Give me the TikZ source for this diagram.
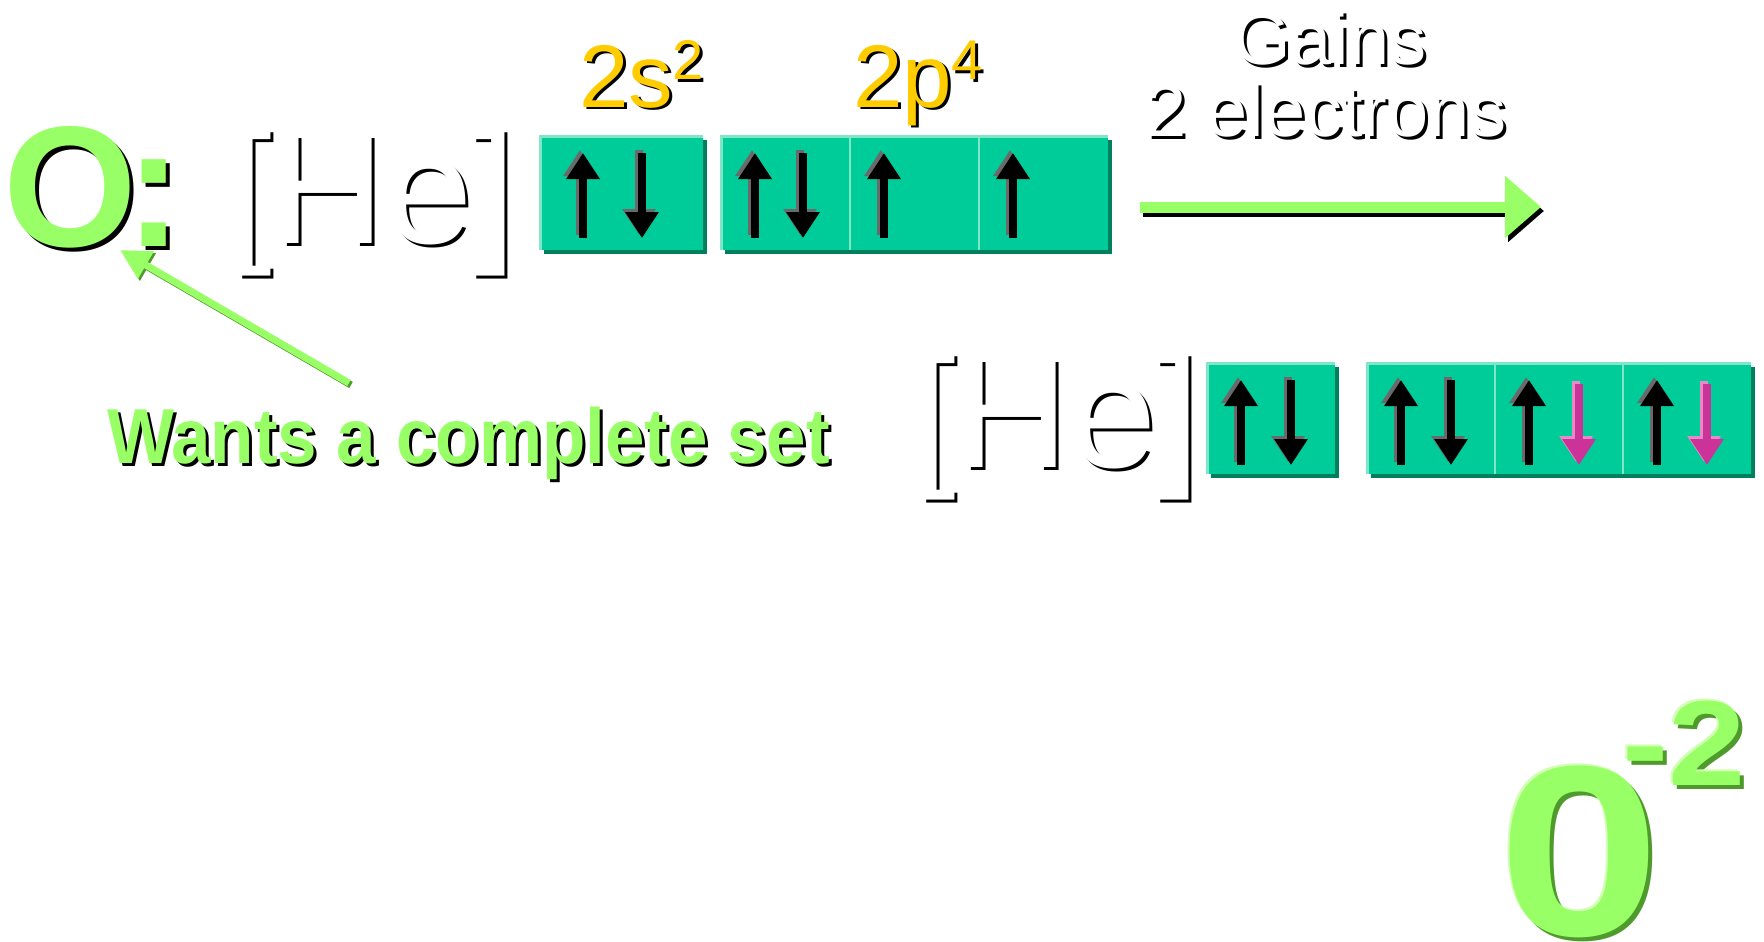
\documentclass[tikz,border=0pt]{standalone}
\usepackage{fontspec}
\setmainfont{Liberation Sans}
\usepackage{graphicx}
\usetikzlibrary{arrows.meta,shadows,calc}
\definecolor{ogreen}{HTML}{99FF66}
\definecolor{ogreendark}{HTML}{4F9A2C}
\definecolor{ogreenlight}{HTML}{D2FFB4}
\definecolor{orbfill}{HTML}{00CC99}
\definecolor{orbdark}{HTML}{007F5C}
\definecolor{orblight}{HTML}{7FE6C8}
\definecolor{oyellow}{HTML}{FFCC00}
\definecolor{spinmag}{HTML}{CC3399}
\definecolor{spinmaglight}{HTML}{E889C6}
\definecolor{spingrey}{HTML}{6A6A6A}
\newcommand\fs[1]{\fontsize{#1}{#1}\selectfont}
\newcommand\upspin[3]{%
  \draw[spin, draw=spingrey, xshift=-3pt, yshift=3pt] (#1,#3) -- (#1,#2);
  \draw[spin] (#1,#3) -- (#1,#2);}
\newcommand\downspin[3]{%
  \draw[spin, draw=spingrey, xshift=-3pt, yshift=3pt] (#1,#2) -- (#1,#3);
  \draw[spin] (#1,#2) -- (#1,#3);}
\newcommand\magspin[3]{%
  \draw[spin, draw=spinmaglight, xshift=-3pt, yshift=3pt] (#1,#2) -- (#1,#3);
  \draw[spin, draw=spinmag] (#1,#2) -- (#1,#3);}
\begin{document}
\begin{tikzpicture}[x=1pt,y=-1pt,
  txt/.style={inner sep=0pt, outer sep=0pt, anchor=base west},
  ctxt/.style={inner sep=0pt, outer sep=0pt, anchor=base},
  orb/.style={fill=orbfill, draw=none, inner sep=0pt, outer sep=0pt,
    drop shadow={shadow xshift=4pt, shadow yshift=-4pt, fill=orbdark, opacity=1}},
  hl/.style={draw=orblight, line width=3pt},
  spin/.style={line width=8pt, draw=black, -{Triangle[length=26pt,width=32pt]}},
  shd/.style={xshift=3pt, yshift=-3pt, text=black}]
\fill[white] (0,0) rectangle (1764,942);
\useasboundingbox (0,0) rectangle (1764,942);

% ---------- O: ----------
\node[txt, font={\fs{172}\bfseries}, xshift=4pt, yshift=-4pt, text=black] (Os) at (4,246) {O};
\node[txt, font={\fs{172}\bfseries}, text=ogreen] (O) at (4,246) {O};
\node[txt, font={\fs{172}\bfseries}, xshift=4pt, yshift=-4pt, text=black] (cols) at (125,246) {:};
\node[txt, font={\fs{172}\bfseries}, text=ogreen] (col) at (125,246) {:};

% ---------- [He] row 1 ----------
\node[txt, font={\fs{157}}, shd] (he1s) at (228,243) {[He]};
\node[txt, font={\fs{157}}, text=white] (he1) at (228,243) {[He]};

% ---------- labels ----------
\node[txt, font={\fs{89}}, shd] (s2s) at (579,107) {2s};
\node[txt, font={\fs{89}}, text=oyellow] (s2) at (579,107) {2s};
\node[txt, font={\fs{56}}, shd] (s2es) at (672,79) {2};
\node[txt, font={\fs{56}}, text=oyellow] (s2e) at (672,79) {2};
\node[txt, font={\fs{89}}, shd] (p4s) at (853,107) {2p};
\node[txt, font={\fs{89}}, text=oyellow] (p4) at (853,107) {2p};
\node[txt, font={\fs{56}}, shd] (p4es) at (951,79) {4};
\node[txt, font={\fs{56}}, text=oyellow] (p4e) at (951,79) {4};

% ---------- orbital boxes row 1 ----------
\node[orb, minimum width=163pt, minimum height=114pt] (b1) at (621.5,193) {};
\draw[hl] (b1.south west) -- (b1.north west) -- (b1.north east);
\node[orb, minimum width=129pt, minimum height=114pt] (p1) at (785.5,193) {};
\node[orb, minimum width=129pt, minimum height=114pt] (p2) at (914.5,193) {};
\node[orb, minimum width=129pt, minimum height=114pt] (p3) at (1043.5,193) {};
\draw[hl] (p1.south west) -- (p1.north west) -- (p3.north east);
\draw[hl, line width=2pt] (p2.north west) -- (p2.south west);
\draw[hl, line width=2pt] (p3.north west) -- (p3.south west);

\upspin{583}{153}{238}
\downspin{642}{153}{238}
\upspin{755}{153}{238}
\downspin{803}{153}{238}
\upspin{884}{153}{238}
\upspin{1013}{153}{238}

% ---------- Gains 2 electrons ----------
\node[ctxt, font={\fs{74}}, shd] (g1s) at (1330,64) {Gains};
\node[ctxt, font={\fs{74}}, text=white] (g1) at (1330,64) {Gains};
\node[ctxt, font={\fs{74}}, shd] (g2s) at (1326,136) {2 electrons};
\node[ctxt, font={\fs{74}}, text=white] (g2) at (1326,136) {2 electrons};

\coordinate (ga) at (1140,207);
\coordinate (gb) at (1541,207);
\draw[line width=11pt, draw=black, -{Triangle[length=36pt,width=60pt]}] ($(ga)+(3,4)$) -- ($(gb)+(3,4)$);
\draw[line width=11pt, draw=ogreen, -{Triangle[length=36pt,width=60pt]}] (ga) -- (gb);

% ---------- pointer ----------
\coordinate (ptail) at (349,383);
\coordinate (ptip) at (120,250);
\draw[line width=7pt, draw=ogreendark, -{Triangle[length=30pt,width=30pt]}] ($(ptail)+(2,2)$) -- ($(ptip)+(2,2)$);
\draw[line width=7pt, draw=ogreen, -{Triangle[length=30pt,width=30pt]}] (ptail) -- (ptip);

\node[txt, font={\fs{78}\bfseries}, shd] (wantss) at (107,463) {\scalebox{0.91}[1]{Wants a complete set}};
\node[txt, font={\fs{78}\bfseries}, text=ogreen] (wants) at (107,463) {\scalebox{0.91}[1]{Wants a complete set}};

% ---------- [He] row 2 ----------
\node[txt, font={\fs{157}}, shd] (he2s) at (912,467) {[He]};
\node[txt, font={\fs{157}}, text=white] (he2) at (912,467) {[He]};

\node[orb, minimum width=128pt, minimum height=111pt] (c1) at (1271,418.5) {};
\draw[hl] (c1.south west) -- (c1.north west) -- (c1.north east);
\node[orb, minimum width=128pt, minimum height=111pt] (q1) at (1431,418.5) {};
\node[orb, minimum width=128pt, minimum height=111pt] (q2) at (1559,418.5) {};
\node[orb, minimum width=128pt, minimum height=111pt] (q3) at (1687,418.5) {};
\draw[hl] (q1.south west) -- (q1.north west) -- (q3.north east);
\draw[hl, line width=2pt] (q2.north west) -- (q2.south west);
\draw[hl, line width=2pt] (q3.north west) -- (q3.south west);

\upspin{1241}{380}{465}
\downspin{1291}{380}{465}
\upspin{1401}{380}{465}
\downspin{1451}{380}{465}
\upspin{1529}{380}{465}
\magspin{1579}{384}{465}
\upspin{1657}{380}{465}
\magspin{1707}{384}{465}

% ---------- O^-2 ----------
\node[txt, font={\fs{243}\bfseries}, xshift=4pt, yshift=-4pt, text=ogreendark] (ions) at (1498,935) {\scalebox{1.2}[1]{0}};
\node[txt, font={\fs{243}\bfseries}, xshift=-2pt, yshift=2pt, text=ogreenlight] (ionl) at (1498,935) {\scalebox{1.2}[1]{0}};
\node[txt, font={\fs{243}\bfseries}, text=ogreen] (ion) at (1498,935) {\scalebox{1.2}[1]{0}};
\node[txt, font={\fs{121}\bfseries}, xshift=4pt, yshift=-4pt, text=ogreendark] (chgs) at (1622,785) {\scalebox{1.15}[1]{-2}};
\node[txt, font={\fs{121}\bfseries}, xshift=-2pt, yshift=2pt, text=ogreenlight] (chgl) at (1622,785) {\scalebox{1.15}[1]{-2}};
\node[txt, font={\fs{121}\bfseries}, text=ogreen] (chg) at (1622,785) {\scalebox{1.15}[1]{-2}};
\end{tikzpicture}
\end{document}
